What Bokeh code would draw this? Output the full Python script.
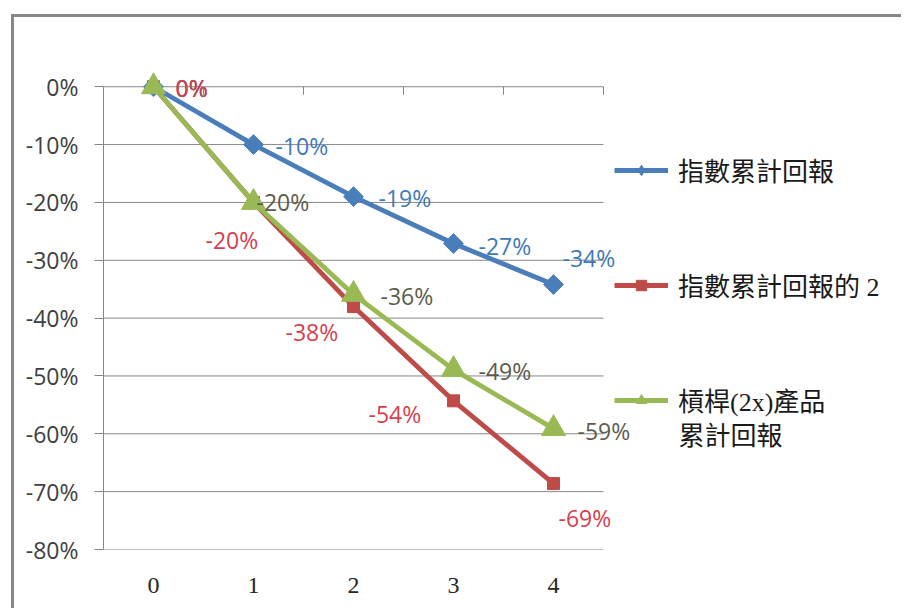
import math
from bokeh.plotting import figure
from bokeh.models import Range1d, FixedTicker, Legend, LegendItem, Label
from bokeh.core.properties import value
from bokeh.embed import file_html
from bokeh.resources import INLINE

# ---------------- data ----------------
categories = ["0", "1", "2", "3", "4"]
index_return = [0.0, -0.10, -0.19, -0.271, -0.342]
index_return_x2 = [0.0, -0.20, -0.38, -0.543, -0.686]
leveraged_return = [0.0, -0.20, -0.359, -0.489, -0.591]
series_names = ["指數累計回報", "指數累計回報的 2", "槓桿(2x)產品"]
legend_second_line = "累計回報"
y_ticks = [0.0, -0.1, -0.2, -0.3, -0.4, -0.5, -0.6, -0.7, -0.8]
y_tick_labels = ["0%", "-10%", "-20%", "-30%", "-40%", "-50%", "-60%", "-70%", "-80%"]

# ---------------- styles ----------------
BLUE, RED, GREEN = "#4A7EBB", "#BE4B48", "#98B954"
BLUE_T, RED_T, GREEN_T = "#3E79B6", "#D6404E", "#5C5C4E"
GRID = "#878787"
# label offsets in pixels (x right, y down)
blue_dx, blue_dy = [22, 22, 25, 25, 9], [1, 1, 1, 2, -27]
red_dx, red_dy = [22, -48, -68, -85, 5], [1, 38, 25, 13, 34]
green_dx, green_dy = [22, 3, 27, 25, 24], [1, 0, 2, 1, 2]

xs = list(range(len(categories)))
x_lo, x_hi = -0.5, len(categories) - 0.5

W, H = 890, 594
LEFT, TOP, BOTTOM = 89, 49, 62
frame_w = W - LEFT
frame_h = H - TOP - BOTTOM
y_lo, y_hi = -0.8, 0.035
px_per_y = frame_h / (y_hi - y_lo)

p = figure(width=W, height=H,
           x_range=Range1d(x_lo, x_lo + frame_w / 100.0),
           y_range=Range1d(y_lo, y_hi),
           output_backend="svg", toolbar_location=None,
           min_border_left=LEFT, min_border_right=0,
           min_border_top=TOP, min_border_bottom=BOTTOM)
p.styles = {"border-left": "3px solid #878787", "border-top": "3px solid #878787",
            "margin-left": "11px", "margin-top": "14px"}
p.outline_line_color = None
p.background_fill_color = "white"
p.border_fill_color = "white"

# x axis (labels only, at bottom)
p.xaxis.ticker = FixedTicker(ticks=xs)
p.xaxis.major_label_overrides = {i: c for i, c in zip(xs, categories)}
p.xaxis.axis_line_color = None
p.xaxis.major_tick_line_color = None
p.xaxis.minor_tick_line_color = None
p.xaxis.major_label_standoff = 22
p.xaxis.major_label_text_font = "Liberation Serif"
p.xaxis.major_label_text_font_size = "24px"
p.xaxis.major_label_text_color = "#262626"
p.xgrid.visible = False
p.ygrid.visible = False

# y axis
p.yaxis.ticker = FixedTicker(ticks=y_ticks)
p.yaxis.major_label_overrides = {t: l for t, l in zip(y_ticks, y_tick_labels)}
p.yaxis.bounds = (min(y_ticks), max(y_ticks))
p.yaxis.axis_line_color = GRID
p.yaxis.major_tick_line_color = GRID
p.yaxis.major_tick_in = 0
p.yaxis.major_tick_out = 9
p.yaxis.minor_tick_line_color = None
p.yaxis.major_label_standoff = 16
p.yaxis.major_label_text_font = "Open Sans"
p.yaxis.major_label_text_font_size = "23px"
p.yaxis.major_label_text_color = "#404040"

# horizontal gridlines limited to the plot area
p.segment(x0=[x_lo] * len(y_ticks), y0=y_ticks, x1=[x_hi] * len(y_ticks), y1=y_ticks,
          line_color=GRID, line_width=1)

# category tick marks hanging from the 0% line
tick_len = 8 / px_per_y
bounds_x = [i - 0.5 for i in range(len(categories) + 1)]
p.segment(x0=bounds_x, y0=[0] * len(bounds_x), x1=bounds_x,
          y1=[-tick_len] * len(bounds_x), line_color=GRID, line_width=1)

# series
bl = p.line(xs, index_return, line_color=BLUE, line_width=4.8)
# diamond symbol used by the legend; hidden beneath the rotated squares in the plot
bm_leg = p.scatter(xs, index_return, marker="diamond", size=18,
                   fill_color=BLUE, line_color=BLUE)
bm = p.scatter(xs, index_return, marker="square", angle=math.pi / 4, size=14,
               fill_color=BLUE, line_color=BLUE)
rl = p.line(xs, index_return_x2, line_color=RED, line_width=4.8)
rm = p.scatter(xs, index_return_x2, marker="square", size=12,
               fill_color=RED, line_color=RED)
gl = p.line(xs, leveraged_return, line_color=GREEN, line_width=4.8)
gm = p.scatter(xs, leveraged_return, marker="triangle", size=24,
               fill_color=GREEN, line_color=GREEN)


def pct(vals):
    return [f"{round(v * 100):d}%" for v in vals]


for vals, dx, dy, col in [(index_return, blue_dx, blue_dy, BLUE_T),
                          (leveraged_return, green_dx, green_dy, GREEN_T),
                          (index_return_x2, red_dx, red_dy, RED_T)]:
    p.text(x=xs, y=vals, text=pct(vals), x_offset=dx, y_offset=dy,
           text_font=value("Open Sans"), text_font_size="23px",
           text_color=col, text_baseline="middle", text_align="left")

LEG_FONT = "'Liberation Serif', 'Noto Sans CJK TC'"
legend = Legend(items=[LegendItem(label=series_names[0], renderers=[bl, bm_leg]),
                       LegendItem(label=series_names[1], renderers=[rl, rm]),
                       LegendItem(label=series_names[2], renderers=[gl, gm])],
                location=(511, 131), orientation="vertical",
                spacing=78, padding=0, margin=0,
                border_line_color=None, background_fill_alpha=0,
                label_text_font=LEG_FONT, label_text_font_size="26px",
                label_text_color="#1a1a1a",
                glyph_width=54, glyph_height=26, label_height=36,
                label_standoff=10)
p.add_layout(legend)

p.add_layout(Label(x=575, y=113, x_units="screen", y_units="screen",
                   text=legend_second_line, text_font=LEG_FONT,
                   text_font_size="26px", text_color="#1a1a1a",
                   text_baseline="middle"))

open("out.html", "w").write(file_html(p, INLINE))
